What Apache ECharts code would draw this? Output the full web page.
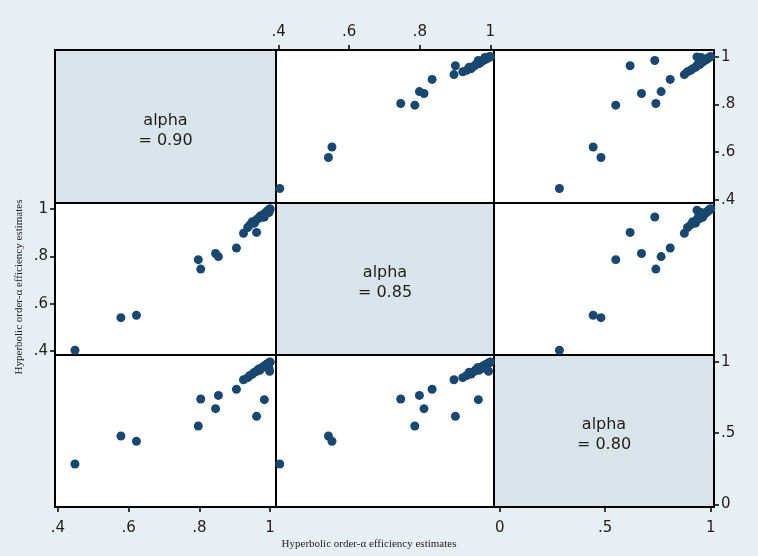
<!DOCTYPE html>
<html><head><meta charset="utf-8">
<script src="https://cdn.jsdelivr.net/npm/echarts@6/dist/echarts.min.js"></script>
<style>html,body{margin:0;padding:0;background:#e8eff2}#c{width:758px;height:556px}</style>
</head><body><div id="c"></div>
<script>
// Diagonal labels (one per variable)
const alphaLabels = ['alpha\n= 0.90', 'alpha\n= 0.85', 'alpha\n= 0.80'];
// Hyperbolic order-alpha efficiency estimates, one value per observation
const effAlpha90 = [0.448, 0.578, 0.622, 0.797, 0.804, 0.846, 0.854, 0.905, 0.925, 0.962, 0.984, 0.937,
  0.943, 0.950, 0.956, 0.962, 0.967, 0.971, 0.975, 0.979, 0.983, 0.986, 0.989, 0.992, 0.995, 0.998, 1.000, 1.000, 0.999, 0.997];
const effAlpha85 = [0.403, 0.541, 0.551, 0.786, 0.746, 0.812, 0.799, 0.835, 0.897, 0.901, 0.966, 0.922,
  0.933, 0.946, 0.940, 0.955, 0.960, 0.968, 0.972, 0.965, 0.978, 0.982, 0.986, 0.990, 0.994, 0.997, 1.000, 1.000, 0.995, 0.985];
const effAlpha80 = [0.283, 0.480, 0.443, 0.550, 0.740, 0.672, 0.765, 0.808, 0.875, 0.618, 0.735, 0.890,
  0.905, 0.915, 0.928, 0.935, 0.948, 0.942, 0.958, 0.962, 0.968, 0.975, 0.980, 0.986, 0.990, 0.995, 1.000, 0.998, 0.935, 0.955];
// Tick values and labels
const ticksA = [0.4, 0.6, 0.8, 1];
const ticksALabels = ['.4', '.6', '.8', '1'];
const ticksB = [0, 0.5, 1];
const ticksBLabels = ['0', '.5', '1'];
const axisTitle = 'Hyperbolic order-\u03b1 efficiency estimates';

const vars = [effAlpha90, effAlpha85, effAlpha80];
const tickSets = [[ticksA, ticksALabels], [ticksA, ticksALabels], [ticksB, ticksBLabels]];

// layout
const colEdges = [55, 276, 494, 714];
const rowEdges = [50, 203, 355, 507];
const xRange = [[0.3915, 1.017], [0.3923, 1.0105], [-0.027, 1.0156]];
const yRange = [[0.3874, 1.028], [0.3831, 1.0253], [-0.019, 1.049]];
const xLabelPos = {'2,0': 'bottom', '0,1': 'top', '2,2': 'bottom'};
const yLabelPos = {'0,2': 'right', '1,0': 'left', '2,2': 'right'};
const tickFont = {color: '#1e1e1e', fontSize: 15, fontFamily: 'DejaVu Sans'};

const grids = [], xAxes = [], yAxes = [], series = [], graphics = [];
for (let r = 0; r < 3; r++) {
  for (let c = 0; c < 3; c++) {
    const idx = grids.length;
    const diag = r === c;
    grids.push({
      left: colEdges[c], top: rowEdges[r],
      width: colEdges[c + 1] - colEdges[c], height: rowEdges[r + 1] - rowEdges[r],
      show: true, backgroundColor: diag ? '#d8e4ea' : '#ffffff',
      borderColor: '#000', borderWidth: 2, containLabel: false, outerBoundsMode: 'none'
    });
    const xp = xLabelPos[r + ',' + c];
    const yp = yLabelPos[r + ',' + c];
    const [xt, xl] = tickSets[c];
    const [yt, yl] = tickSets[r];
    const fmt = (vals, labs) => (v) => { const i = vals.findIndex(t => Math.abs(t - v) < 1e-9); return i >= 0 ? labs[i] : ''; };
    xAxes.push({
      type: 'value', gridIndex: idx, min: xRange[c][0], max: xRange[c][1],
      position: xp || 'bottom', splitLine: {show: false}, axisLine: {show: false, onZero: false},
      axisTick: {show: !!xp, customValues: xt, length: 5, inside: false, lineStyle: {color: '#000', width: 1.5}},
      axisLabel: Object.assign({show: !!xp, customValues: xt, formatter: fmt(xt, xl), margin: xp === 'top' ? 10 : 14}, tickFont)
    });
    yAxes.push({
      type: 'value', gridIndex: idx, min: yRange[r][0], max: yRange[r][1],
      position: yp || 'left', splitLine: {show: false}, axisLine: {show: false, onZero: false},
      axisTick: {show: !!yp, customValues: yt, length: 5, inside: false, lineStyle: {color: '#000', width: 1.5}},
      axisLabel: Object.assign({show: !!yp, customValues: yt, formatter: fmt(yt, yl), margin: 7}, tickFont)
    });
    if (diag) {
      graphics.push({
        type: 'text', x: (colEdges[c] + colEdges[c + 1]) / 2, y: (rowEdges[r] + rowEdges[r + 1]) / 2 + 4,
        style: {text: alphaLabels[r], fontSize: 16, lineHeight: 20, fontFamily: 'DejaVu Sans', fill: '#1e1e1e', align: 'center', verticalAlign: 'middle'}
      });
    } else {
      series.push({
        type: 'scatter', xAxisIndex: idx, yAxisIndex: idx, clip: false, silent: true,
        symbol: 'circle', symbolSize: 9, itemStyle: {color: '#1a476f', opacity: 1},
        data: vars[c].map((v, i) => [v, vars[r][i]])
      });
    }
  }
}
graphics.push({
  type: 'text', x: 369, y: 544,
  style: {text: axisTitle, fontSize: 11, fontFamily: 'Liberation Serif', fill: '#222', align: 'center', verticalAlign: 'middle'}
});
graphics.push({
  type: 'text', x: 19, y: 287, rotation: Math.PI / 2,
  style: {text: axisTitle, fontSize: 11, fontFamily: 'Liberation Serif', fill: '#222', align: 'center', verticalAlign: 'middle'}
});

const chart = echarts.init(document.getElementById('c'), null, {renderer: 'canvas'});
chart.setOption({
  backgroundColor: '#e8eff2', animation: false,
  grid: grids, xAxis: xAxes, yAxis: yAxes, series: series, graphic: graphics
});
</script></body></html>
